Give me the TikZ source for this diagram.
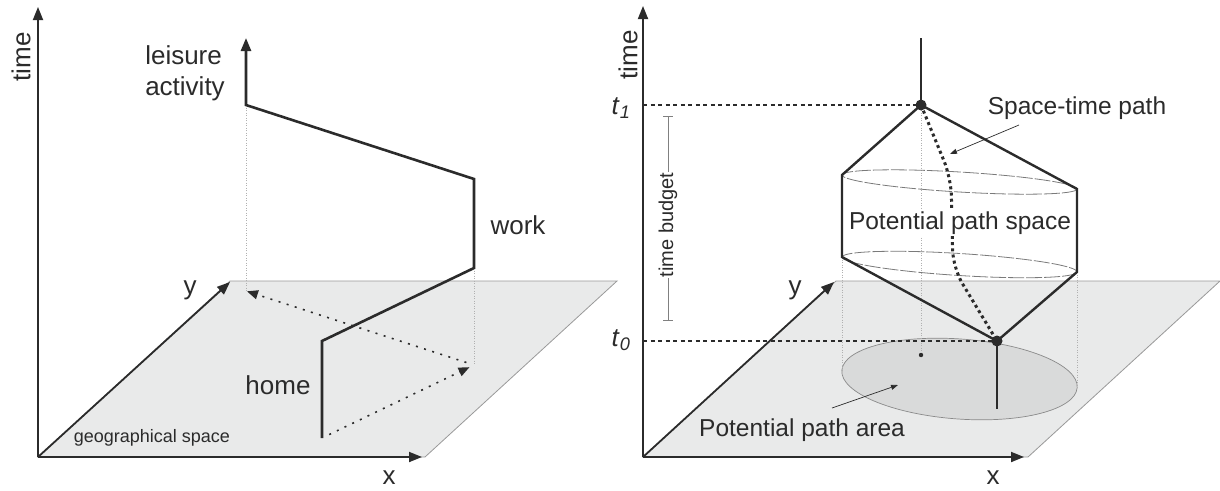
\documentclass[tikz,border=0pt]{standalone}
\usepackage{fontspec}
\setmainfont{Liberation Sans}
\usetikzlibrary{arrows.meta}
\definecolor{ink}{HTML}{2B2B2B}
\definecolor{planefill}{HTML}{E9EAEA}
\definecolor{planeedge}{HTML}{9A9A9A}
\definecolor{areafill}{HTML}{D9DADA}
\definecolor{areaedge}{HTML}{8A8A8A}
\definecolor{projcol}{HTML}{B0B0B0}
\definecolor{cylcol}{HTML}{7A7A7A}
\begin{document}
\begin{tikzpicture}[x=1pt,y=-1pt,
  axisline/.style={line width=1.8pt, draw=ink, -{Triangle[length=13pt,width=10pt]}},
  trajline/.style={line width=2.6pt, draw=ink, line join=miter, line cap=butt},
  projline/.style={line width=0.8pt, draw=projcol, dash pattern=on 1pt off 1.5pt},
  groundarrow/.style={line width=1.6pt, draw=ink, dash pattern=on 2pt off 6.5pt, -{Triangle[length=11pt,width=9pt]}},
  tline/.style={line width=1.1pt, draw=ink, dash pattern=on 4pt off 3.5pt},
  cylline/.style={line width=0.8pt, draw=cylcol, dash pattern=on 16pt off 2pt},
  stpath/.style={line width=3pt, draw=ink, dash pattern=on 3pt off 3.2pt, rounded corners=18pt},
  thinarrow/.style={line width=0.7pt, draw=ink, -{Triangle[length=7pt,width=5pt]}},
  planestyle/.style={fill=planefill, draw=planeedge, line width=0.8pt},
  lbl/.style={font=\fontsize{26}{31}\selectfont, text=ink, inner sep=0pt},
  rlbl/.style={font=\fontsize{24.5}{29}\selectfont, text=ink, inner sep=0pt},
  dotnode/.style={circle, fill=ink, inner sep=0pt, minimum size=11pt},
]
\useasboundingbox (0,0) rectangle (1220,490);

% ================= LEFT PANEL =================
\coordinate (O1) at (38,457);
\coordinate (T1) at (38,7);
\coordinate (X1) at (422,457);
\coordinate (Y1) at (230,282);
\coordinate (PA1) at (425,457);
\coordinate (PB1) at (617,281);
\coordinate (PC1) at (230,281);
\filldraw[planestyle] (O1) -- (PA1) -- (PB1) -- (PC1) -- cycle;

% projections
\coordinate (H1) at (322,438);
\coordinate (H2) at (322,341);
\coordinate (W1) at (474,268);
\coordinate (W2) at (474,179);
\coordinate (L1) at (246,105);
\coordinate (L2) at (246,38);
\coordinate (GW) at (474,365);
\coordinate (GL) at (246,291);
\draw[projline] (L1) -- (GL);
\draw[projline] (W1) -- (GW);

\draw[groundarrow, shorten <=8pt, shorten >=5pt] (H1) -- (GW);
\draw[groundarrow, shorten <=8pt, shorten >=1pt] (GW) -- (GL);

\draw[axisline] (O1) -- (T1);
\draw[axisline] (O1) -- (X1);
\draw[axisline] (O1) -- (Y1);

\draw[trajline, -{Triangle[length=13pt,width=10pt]}] (H1) -- (H2) -- (W1) -- (W2) -- (L1) -- (L2);

\node[lbl, rotate=90] (timeL) at (21,57) {time};
\node[lbl, align=left] (leis) at (185,73) {leisure\\activity};
\node[lbl] (work) at (518,225) {work};
\node[lbl] (home) at (278,385) {home};
\node[lbl] (yL) at (190,290) {y};
\node[lbl] (xL) at (389,478) {x};
\node[font=\fontsize{18}{20}\selectfont, text=ink, inner sep=0pt] (geo) at (152,438) {geographical space};

% ================= RIGHT PANEL =================
\coordinate (O2) at (643,457);
\coordinate (T2) at (643,6);
\coordinate (X2) at (1024,457);
\coordinate (Y2) at (834,282);
\coordinate (PA2) at (1028,457);
\coordinate (PB2) at (1220,281);
\coordinate (PC2) at (836,281);
\filldraw[planestyle] (O2) -- (PA2) -- (PB2) -- (PC2) -- cycle;

% potential path area
\coordinate (AC) at (959.5,379);
\filldraw[fill=areafill, draw=areaedge, line width=0.7pt] (AC) ellipse [x radius=118, y radius=40, rotate=-4.2];

% key points
\coordinate (N1) at (921,105);
\coordinate (N1top) at (921,38);
\coordinate (N0) at (997,341);
\coordinate (N0bot) at (997,409);
\coordinate (CL1) at (842,175);
\coordinate (CR1) at (1077,189);
\coordinate (CL2) at (842,257);
\coordinate (CR2) at (1077,272);
\coordinate (AL) at (842,371);
\coordinate (AR) at (1077,388);
\coordinate (Actr) at (921,355);
\coordinate (T1a) at (643,105);
\coordinate (T0a) at (643,341);

% projection lines
\draw[projline] (CL2) -- (AL);
\draw[projline] (CR2) -- (AR);
\draw[projline] (N1) -- (Actr);
\fill[ink] (Actr) circle (2.2);

% t lines
\draw[tline] (T1a) -- (N1);
\draw[tline] (T0a) -- (N0);

% cylinder ellipses
\coordinate (E1) at (959.5,182);
\coordinate (E2) at (959.5,264.5);
\draw[cylline] (E1) ellipse [x radius=117.7, y radius=10, rotate=-3.4];
\draw[cylline] (E2) ellipse [x radius=117.7, y radius=11, rotate=-3.6];

% space-time path
\draw[stpath] (N1) -- (951,178) -- (953,268) -- (N0);

% axes
\draw[axisline] (O2) -- (T2);
\draw[axisline] (O2) -- (X2);
\draw[axisline] (O2) -- (Y2);

% label on the prism
\node[rlbl, fill=white, inner sep=1.5pt] (pps) at (960,223) {Potential path space};

% prism outline
\draw[trajline, line width=2.4pt] (CL1) -- (N1) -- (CR1) -- (CR2) -- (N0) -- (CL2) -- cycle;
\draw[trajline] (N1top) -- (N1);
\draw[trajline] (N0) -- (N0bot);
\node[dotnode] (dot1) at (N1) {};
\node[dotnode] (dot0) at (N0) {};

% time budget bracket
\coordinate (BT) at (668,116);
\coordinate (BB) at (668,320);
\draw[draw=gray, line width=0.8pt] (BT) -- (BB);
\draw[draw=gray, line width=0.8pt] ([xshift=-5]BT) -- ([xshift=5]BT);
\draw[draw=gray, line width=0.8pt] ([xshift=-5]BB) -- ([xshift=5]BB);
\node[font=\fontsize{20}{22}\selectfont, text=ink, rotate=90, fill=white, inner sep=1pt] (tb) at (668,225) {time budget};

% labels
\node[rlbl, rotate=90, font=\fontsize{26}{31}\selectfont] (timeR) at (628,55) {time};
\node[rlbl, font=\fontsize{26}{31}\selectfont] (t1) at (621,108) {\textit{t}\textsubscript{\textit{1}}};
\node[rlbl, font=\fontsize{26}{31}\selectfont] (t0) at (621,340) {\textit{t}\textsubscript{\textit{0}}};
\node[rlbl] (stp) at (1077,108) {Space-time path};
\node[rlbl] (ppa) at (802,430) {Potential path area};
\node[lbl] (yR) at (795,290) {y};
\node[lbl] (xR) at (993,478) {x};

\coordinate (stpA) at (1019,125);
\coordinate (stpB) at (950,154);
\draw[thinarrow] (stpA) -- (stpB);
\coordinate (ppaA) at (832,408);
\coordinate (ppaB) at (898,385);
\draw[thinarrow] (ppaA) -- (ppaB);
\end{tikzpicture}
\end{document}
